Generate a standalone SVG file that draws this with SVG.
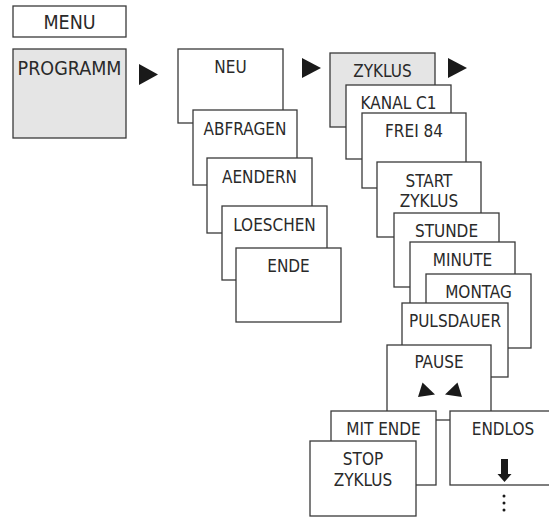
<svg xmlns="http://www.w3.org/2000/svg" width="549" height="517" viewBox="0 0 549 517">
<style>
.b{fill:#fff;stroke:#3a3a3a;stroke-width:1.3}
.g{fill:#e5e5e5;stroke:#3a3a3a;stroke-width:1.3}
text{font-family:"DejaVu Sans Condensed","DejaVu Sans",sans-serif;font-stretch:condensed;font-size:17px;fill:#2a2a2a;text-anchor:middle}
.big{font-size:19.5px}
.a{fill:#1a1a1a}
</style>
<rect width="549" height="517" fill="#fff"/>
<g id="menu"><rect class="b" x="13" y="6" width="113" height="31"/><text class="big" x="69.5" y="29">MENU</text></g>
<g id="programm"><rect class="g" x="13" y="49" width="113" height="89"/><text class="big" x="69.5" y="75">PROGRAMM</text></g>
<g id="neu"><rect class="b" x="178" y="49" width="105" height="74"/><text x="230.5" y="73">NEU</text></g>
<g id="abfragen"><rect class="b" x="193" y="110" width="104" height="75"/><text x="245" y="135">ABFRAGEN</text></g>
<g id="aendern"><rect class="b" x="207" y="158" width="105" height="75"/><text x="259.5" y="183">AENDERN</text></g>
<g id="loeschen"><rect class="b" x="222" y="206" width="105" height="74"/><text x="274.5" y="231">LOESCHEN</text></g>
<g id="ende"><rect class="b" x="236" y="248" width="105" height="74"/><text x="288.5" y="272">ENDE</text></g>
<g id="zyklus"><rect class="g" x="330" y="53" width="105" height="74"/><text x="382.5" y="77">ZYKLUS</text></g>
<g id="kanal"><rect class="b" x="346" y="85" width="105" height="74"/><text x="398.5" y="109">KANAL C1</text></g>
<g id="frei"><rect class="b" x="362" y="113" width="104" height="75"/><text x="414" y="137">FREI 84</text></g>
<g id="start"><rect class="b" x="377" y="162" width="104" height="75"/><text x="429" y="187">START</text><text x="429" y="207">ZYKLUS</text></g>
<g id="stunde"><rect class="b" x="394" y="213" width="105" height="74"/><text x="446.5" y="237">STUNDE</text></g>
<g id="minute"><rect class="b" x="410" y="242" width="105" height="74"/><text x="462.5" y="266">MINUTE</text></g>
<g id="montag"><rect class="b" x="426" y="274" width="105" height="74"/><text x="478.5" y="298">MONTAG</text></g>
<g id="pulsdauer"><rect class="b" x="402" y="303" width="106" height="74"/><text x="455" y="327">PULSDAUER</text></g>
<g id="pause"><rect class="b" x="387" y="345" width="104" height="75"/><text x="439" y="368">PAUSE</text>
<polygon class="a" points="422.5,382.5 418,397 435,394.5"/><polygon class="a" points="457.5,382.5 445,394.5 462,397"/></g>
<g id="mitende"><rect class="b" x="331" y="411" width="105" height="74"/><text x="383.5" y="435">MIT ENDE</text></g>
<g id="endlos"><rect class="b" x="450" y="411" width="106" height="74"/><text x="503" y="435">ENDLOS</text>
<rect class="a" x="501" y="459" width="7" height="16"/><polygon class="a" points="497.5,474 511.5,474 504.5,482"/>
<circle class="a" cx="504" cy="496" r="1.5"/><circle class="a" cx="504" cy="503" r="1.5"/><circle class="a" cx="504" cy="510" r="1.5"/></g>
<g id="stopzyklus"><rect class="b" x="310" y="441" width="106" height="75"/><text x="363" y="465">STOP</text><text x="363" y="486">ZYKLUS</text></g>
<g id="connectors">
<polygon class="a" points="139,64 158,74.5 139,85"/>
<polygon class="a" points="302,58 321,68 302,78"/>
<polygon class="a" points="448,58 467,68 448,78"/>
</g>
</svg>
